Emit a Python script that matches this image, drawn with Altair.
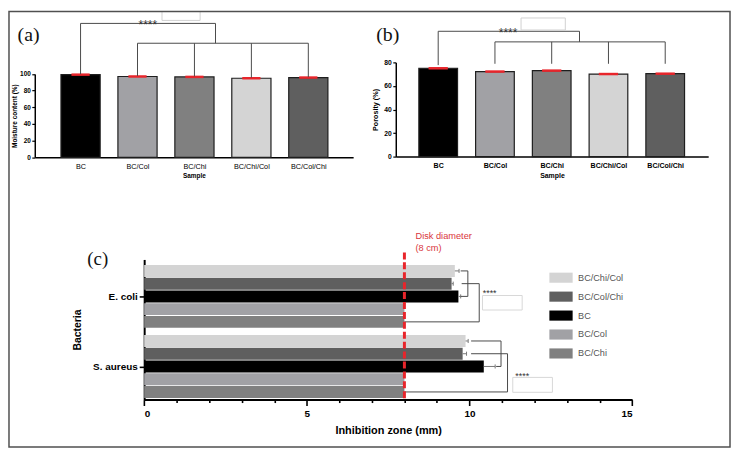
import altair as alt
import pandas as pd

# ---------------- data ----------------
samples = ["BC", "BC/Col", "BC/Chi", "BC/Chi/Col", "BC/Col/Chi"]
moisture = [99.2, 97.0, 96.5, 94.9, 95.7]
porosity = [75.0, 72.2, 73.0, 70.1, 70.4]
sample_colors = ["#000000", "#a1a1a5", "#808080", "#d4d4d4", "#5f5f5f"]

bacteria = ["E. coli", "S. aureus"]
zone_samples = ["BC/Chi/Col", "BC/Col/Chi", "BC", "BC/Col", "BC/Chi"]
zone_ecoli = [9.55, 9.45, 9.66, 8.0, 8.0]
zone_saureus = [9.88, 9.79, 10.44, 8.0, 8.0]
sd_ecoli = [0.13, 0.05, 0.07, 0.0, 0.0]
sd_saureus = [0.08, 0.12, 0.35, 0.0, 0.0]

sig_label = "****"
disk_lines = ["Disk diameter", "(8 cm)"]
disk_value = 8

# ---------------- style ----------------
FONT = "Liberation Sans"
SERIF = "Liberation Serif"
RED = "#e8252b"
LINE = "#4a4a4a"
W, H = 679, 340

color_of = dict(zip(samples, sample_colors))
one = pd.DataFrame({"k": [0]})

def lab_expr(names):
    return "[" + ",".join("'" + n + "'" for n in names) + "][datum.value]"

# ================= panel (a) =================
sxA = alt.Scale(domain=[-0.717, 4.70], range=[0, 321], nice=False, zero=False)
syA = alt.Scale(domain=[0, 100], range=[95.7, 11.7], nice=False, zero=False)
axA_x = alt.Axis(orient="bottom", offset=-(H - 95.7), values=[0, 1, 2, 3, 4],
                 labelExpr=lab_expr(samples), title="Sample", ticks=False,
                 domainWidth=1.5, labelFontSize=7.3, labelPadding=5,
                 titleFontSize=6.5, titleFontWeight="bold", titlePadding=3)
axA_y = alt.Axis(orient="left", values=[0, 20, 40, 60, 80, 100],
                 title="Moisture content (%)", tickSize=3, tickWidth=1.2,
                 domainWidth=1.5, labelFontSize=6.5, labelFontWeight="bold",
                 labelPadding=1.5, titleFontSize=6.5, titleFontWeight="bold",
                 titlePadding=2)

def XA(f):
    return alt.X(f, type="quantitative", scale=sxA, axis=axA_x)

def YA(f):
    return alt.Y(f, type="quantitative", scale=syA, axis=axA_y)

dfA = pd.DataFrame({"sample": samples, "i": list(range(len(samples))), "v": moisture})

barsA = alt.Chart(dfA).transform_calculate(zero="0").mark_bar(
    size=39.5, stroke="#1e1e1e", strokeWidth=1.2
).encode(
    x=XA("i"), y=YA("v"), y2=alt.Y2("zero:Q"),
    color=alt.Color("sample:N", scale=alt.Scale(domain=samples, range=sample_colors), legend=None),
)
capsA = alt.Chart(dfA).transform_calculate(
    c0="datum.i - 0.16", c1="datum.i + 0.16"
).mark_rule(color=RED, strokeWidth=2.5).encode(x=XA("c0"), x2="c1:Q", y=YA("v"))

top_a, mid_a, join_a = 160.7, 136.9, 2.37
brA = pd.DataFrame({
    "x1": [0, 0, join_a, 1] + [1, 2, 3, 4],
    "x2": [0, join_a, join_a, 4] + [1, 2, 3, 4],
    "y1": [moisture[0] + 0.6, top_a, top_a, mid_a] + [mid_a] * 4,
    "y2": [top_a, top_a, mid_a, mid_a] + [m + 0.6 for m in moisture[1:]],
})
bracketsA = alt.Chart(brA).mark_rule(color=LINE, strokeWidth=1).encode(
    x=XA("x1"), x2="x2:Q", y=YA("y1"), y2="y2:Q")
boxA = alt.Chart(pd.DataFrame({"x1": [1.43], "x2": [2.10], "y1": [164.3], "y2": [175.0]})).mark_rect(
    fill="white", stroke="#d0d0d0", strokeWidth=1).encode(x=XA("x1"), x2="x2:Q", y=YA("y1"), y2="y2:Q")
starA = alt.Chart(pd.DataFrame({"x": [1.18], "y": [158.9]})).mark_text(
    text=sig_label, fontSize=12, font=FONT, color="#333").encode(x=XA("x"), y=YA("y"))
tagA = alt.Chart(one).mark_text(text="(a)", font=SERIF, fontSize=20, align="left",
                                baseline="alphabetic", color="#111").encode(
    x=alt.value(-17.3), y=alt.value(-21.3))

panelA = alt.layer(barsA, capsA, bracketsA, boxA, starA, tagA)

# ================= panel (b) =================
sxB = alt.Scale(domain=[-0.66, 4.67], range=[364, 679], nice=False, zero=False)
syB = alt.Scale(domain=[0, 80], range=[95, 0], nice=False, zero=False)
axB_x = alt.Axis(orient="bottom", offset=-(H - 95), values=[0, 1, 2, 3, 4],
                 labelExpr=lab_expr(samples), title="Sample", ticks=False,
                 domainWidth=1.5, labelFontSize=7.1, labelFontWeight="bold",
                 labelPadding=5, titleFontSize=7, titleFontWeight="bold",
                 titlePadding=3)
axB_y = alt.Axis(orient="left", offset=-364, values=[0, 20, 40, 60, 80],
                 title="Porosity (%)", tickSize=3, tickWidth=1.2,
                 domainWidth=1.5, labelFontSize=6.8, labelFontWeight="bold",
                 labelPadding=1.5, titleFontSize=7.3, titlePadding=4)

def XB(f):
    return alt.X(f, type="quantitative", scale=sxB, axis=axB_x)

def YB(f):
    return alt.Y(f, type="quantitative", scale=syB, axis=axB_y)

dfB = pd.DataFrame({"sample": samples, "i": list(range(len(samples))), "v": porosity})

barsB = alt.Chart(dfB).transform_calculate(zero="0").mark_bar(
    size=39, stroke="#1e1e1e", strokeWidth=1.2
).encode(
    x=XB("i"), y=YB("v"), y2=alt.Y2("zero:Q"),
    color=alt.Color("sample:N", scale=alt.Scale(domain=samples, range=sample_colors), legend=None),
)
capsB = alt.Chart(dfB).transform_calculate(
    c0="datum.i - 0.17", c1="datum.i + 0.17"
).mark_rule(color=RED, strokeWidth=2.5).encode(x=XB("c0"), x2="c1:Q", y=YB("v"))

top_b, mid_b, join_b, low_b = 106.4, 97.4, 2.49, 78.8
brB = pd.DataFrame({
    "x1": [0, 0, join_b, 1] + [1, 2, 3, 4],
    "x2": [0, join_b, join_b, 4] + [1, 2, 3, 4],
    "y1": [porosity[0] + 2.7, top_b, top_b, mid_b] + [mid_b] * 4,
    "y2": [top_b, top_b, mid_b, mid_b] + [low_b] * 4,
})
bracketsB = alt.Chart(brB).mark_rule(color=LINE, strokeWidth=1).encode(
    x=XB("x1"), x2="x2:Q", y=YB("y1"), y2="y2:Q")
boxB = alt.Chart(pd.DataFrame({"x1": [1.46], "x2": [2.24], "y1": [107.5], "y2": [117.7]})).mark_rect(
    fill="white", stroke="#d0d0d0", strokeWidth=1).encode(x=XB("x1"), x2="x2:Q", y=YB("y1"), y2="y2:Q")
starB = alt.Chart(pd.DataFrame({"x": [1.23], "y": [105.2]})).mark_text(
    text=sig_label, fontSize=12, font=FONT, color="#333").encode(x=XB("x"), y=YB("y"))
tagB = alt.Chart(one).mark_text(text="(b)", font=SERIF, fontSize=20, align="left",
                                baseline="alphabetic", color="#111").encode(
    x=alt.value(344.3), y=alt.value(-21.1))

panelB = alt.layer(barsB, capsB, bracketsB, boxB, starB, tagB)

# ================= panel (c) =================
sxC = alt.Scale(domain=[0, 15], range=[110.3, 602.3], nice=False, zero=False)
syC = alt.Scale(domain=[0, 11], range=[198.7, 340], nice=False, zero=False)
group_gap = 5.5
first_row = 0.9
centers = [first_row + g * group_gap + 2 for g in range(len(bacteria))]
axC_x = alt.Axis(orient="bottom", values=list(range(16)),
                 labelExpr="datum.value % 5 === 0 ? datum.label : ''",
                 tickSize={"condition": {"test": "datum.value % 5 === 0", "value": 6}, "value": 3},
                 tickWidth=1.6, domainWidth=2, labelFontSize=10, labelFontWeight="bold",
                 labelPadding=3, title="Inhibition zone (mm)", titleFontSize=11,
                 titleFontWeight="bold", titlePadding=6)
axC_y = alt.Axis(orient="left", offset=-110.3, values=centers,
                 labelExpr="datum.value < %.2f ? '%s' : '%s'" % (centers[0] + 2.75, bacteria[0], bacteria[1]),
                 tickSize=5, tickWidth=1.6, domainWidth=2, labelFontSize=10,
                 labelFontWeight="bold", labelPadding=2, title="Bacteria",
                 titleFontSize=10.5, titleFontWeight="bold", titlePadding=10)

def XC(f):
    return alt.X(f, type="quantitative", scale=sxC, axis=axC_x)

def YC(f):
    return alt.Y(f, type="quantitative", scale=syC, axis=axC_y)

rows = []
for g, (b, vals, sds) in enumerate(zip(bacteria, [zone_ecoli, zone_saureus], [sd_ecoli, sd_saureus])):
    for k, s in enumerate(zone_samples):
        rows.append({"bacteria": b, "sample": s, "zone": vals[k], "sd": sds[k],
                     "row": first_row + g * group_gap + k})
dfC = pd.DataFrame(rows)

barsC = alt.Chart(dfC).transform_calculate(
    zero="0", r0="datum.row - 0.47", r1="datum.row + 0.47"
).mark_rect().encode(
    x=XC("zone"), x2="zero:Q", y=YC("r0"), y2="r1:Q",
    color=alt.Color("sample:N",
                    scale=alt.Scale(domain=zone_samples, range=[color_of[s] for s in zone_samples]),
                    legend=alt.Legend(title=None, orient="none", legendX=525.1, legendY=211.6,
                                      symbolType="M-2.3,-1H2.3V1H-2.3Z", symbolSize=104,
                                      symbolStrokeWidth=0, symbolOpacity=1,
                                      labelFontSize=9.2, labelColor="#555", labelFont=FONT,
                                      labelOffset=11.7, rowPadding=8.1, padding=0)),
)
errC = alt.Chart(dfC).transform_filter("datum.sd > 0").transform_calculate(
    hi="datum.zone + datum.sd"
).mark_rule(color="#777", strokeWidth=1).encode(x=XC("zone"), x2="hi:Q", y=YC("row"))
errCapC = alt.Chart(dfC).transform_filter("datum.sd > 0").transform_calculate(
    hi="datum.zone + datum.sd", c0="datum.row - 0.16", c1="datum.row + 0.16"
).mark_rule(color="#777", strokeWidth=1).encode(x=XC("hi"), y=YC("c0"), y2="c1:Q")

segs = []
for g, (a1, a2, c1, b1, b2) in enumerate([(9.73, 9.95, 9.73, 9.76, 10.30),
                                          (10.05, 10.97, 10.82, 10.05, 11.17)]):
    r = [first_row + g * group_gap + k for k in range(5)]
    segs += [(a1, a2, r[0], r[0]), (a2, a2, r[0], r[2]), (c1, a2, r[2], r[2]),
             (b1, b2, r[1], r[1]), (b2, b2, r[1], r[4]), (disk_value, b2, r[4], r[4])]
brC = pd.DataFrame(segs, columns=["x1", "x2", "y1", "y2"])
bracketsC = alt.Chart(brC).mark_rule(color=LINE, strokeWidth=1).encode(
    x=XC("x1"), x2="x2:Q", y=YC("y1"), y2="y2:Q")
boxC = alt.Chart(pd.DataFrame({"x1": [10.40, 11.33], "x2": [11.62, 12.55],
                               "y1": [2.83, 9.26], "y2": [3.97, 10.43]})).mark_rect(
    fill="white", stroke="#d8d8d8", strokeWidth=1).encode(x=XC("x1"), x2="x2:Q", y=YC("y1"), y2="y2:Q")
starC = alt.Chart(pd.DataFrame({"x": [10.62, 11.62], "y": [2.65, 9.12]})).mark_text(
    text=sig_label, fontSize=9, font=FONT, color="#333").encode(x=XC("x"), y=YC("y"))

diskC = alt.Chart(pd.DataFrame({"x": [disk_value], "y1": [-0.55], "y2": [10.95]})).mark_rule(
    color=RED, strokeWidth=3, strokeDash=[7, 3]).encode(x=XC("x"), y=YC("y1"), y2="y2:Q")
diskText = alt.Chart(pd.DataFrame({"t": disk_lines, "x": [8.34, 8.34], "y": [-1.87, -0.86]})).mark_text(
    align="left", baseline="middle", fontSize=9.3, font=FONT, color="#d9363c").encode(
    x=XC("x"), y=YC("y"), text="t:N")
tagC = alt.Chart(one).mark_text(text="(c)", font=SERIF, fontSize=19, align="left",
                                baseline="alphabetic", color="#111").encode(
    x=alt.value(53), y=alt.value(204.3))

panelC = alt.layer(barsC, errC, errCapC, bracketsC, boxC, starC, diskC, diskText, tagC)

# ---------------- frame ----------------
frame = alt.Chart(one).mark_rect(fillOpacity=0, stroke="#505050", strokeWidth=1.5).encode(
    x=alt.value(-26), x2=alt.value(701), y=alt.value(-51.3), y2=alt.value(387.7))

chart = alt.layer(panelA, panelB, panelC, frame).resolve_scale(
    x="independent", y="independent", color="independent"
).resolve_axis(
    x="independent", y="independent"
).resolve_legend(color="independent").properties(
    width=W, height=H, padding=0
).configure_view(strokeWidth=0).configure_axis(
    labelFont=FONT, titleFont=FONT, labelColor="#000", titleColor="#000",
    domainColor="#000", tickColor="#000", grid=False
).configure_text(font=FONT)

chart.save("out.html", embed_options={"renderer": "svg", "actions": False})
